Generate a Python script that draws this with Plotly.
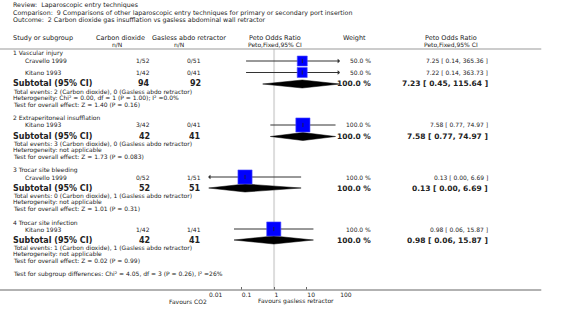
import numpy as np
import plotly.graph_objects as go

W, H = 566, 313
FONT = "DejaVu Sans"

# ---------------- data ----------------
review = "Review:  Laparoscopic entry techniques"
comparison = "Comparison:  9 Comparisons of other laparoscopic entry techniques for primary or secondary port insertion"
outcome = "Outcome:  2 Carbon dioxide gas insufflation vs gasless abdominal wall retractor"

groups = ["1 Vascular injury", "2 Extraperitoneal insufflation",
          "3 Trocar site bleeding", "4 Trocar site infection"]
study_names = ["Cravello 1999", "Kitano 1993", "Kitano 1993", "Cravello 1999", "Kitano 1993"]
study_group = [0, 0, 1, 2, 3]
co2_nN = ["1/52", "1/42", "3/42", "0/52", "1/42"]
gas_nN = ["0/51", "0/41", "0/41", "1/51", "1/41"]
study_or = [7.25, 7.22, 7.58, 0.13, 0.98]
study_lo = [0.14, 0.14, 0.77, 0.00, 0.06]
study_hi = [365.36, 363.73, 74.97, 6.69, 15.87]
study_w = [50.0, 50.0, 100.0, 100.0, 100.0]

sub_co2 = [94, 42, 52, 42]
sub_gas = [92, 41, 51, 41]
sub_or = [7.23, 7.58, 0.13, 0.98]
sub_lo = [0.45, 0.77, 0.00, 0.06]
sub_hi = [115.64, 74.97, 6.69, 15.87]
sub_w = [100.0, 100.0, 100.0, 100.0]

total_events = [
    "Total events: 2 (Carbon dioxide), 0 (Gasless abdo retractor)",
    "Total events: 3 (Carbon dioxide), 0 (Gasless abdo retractor)",
    "Total events: 0 (Carbon dioxide), 1 (Gasless abdo retractor)",
    "Total events: 1 (Carbon dioxide), 1 (Gasless abdo retractor)",
]
heterogeneity = [
    "Heterogeneity: Chi² = 0.00, df = 1 (P = 1.00); I² =0.0%",
    "Heterogeneity: not applicable",
    "Heterogeneity: not applicable",
    "Heterogeneity: not applicable",
]
overall_effect = [
    "Test for overall effect: Z = 1.40 (P = 0.16)",
    "Test for overall effect: Z = 1.73 (P = 0.083)",
    "Test for overall effect: Z = 1.01 (P = 0.31)",
    "Test for overall effect: Z = 0.02 (P = 0.99)",
]
subgroup_test = "Test for subgroup differences: Chi² = 4.05, df = 3 (P = 0.26), I² =26%"

tick_vals = [0.01, 0.1, 1, 10, 100]
tick_text = ["0.01", "0.1", "1", "10", "100"]
favours_left = "Favours CO2"
favours_right = "Favours gasless retractor"

# ---------------- layout positions (pixels) ----------------
header_y = [53, 118, 170, 222]
study_y = [61, 72.5, 125, 177, 229]
sub_y = [84, 136.5, 188, 240]
XMIN, XMAX = 0.01, 100
AX_L, AX_R = 213, 347
AXIS_Y = 290

fig = go.Figure()


def txt(s, x, y, size=6, anchor="left", bold=False, color="#222"):
    fig.add_annotation(text=f"<b>{s}</b>" if bold else s, xref="paper", yref="paper",
                       x=x / W, y=1 - y / H, xanchor=anchor, yanchor="middle",
                       showarrow=False, borderpad=0,
                       font=dict(size=size, family=FONT, color=color))


def fmt_ci(o, l, h):
    return f"{o:.2f} [ {l:.2f}, {h:.2f} ]"


# titles
txt(review, 12, 5.5, 6.3)
txt(comparison, 12, 12.8, 6.3)
txt(outcome, 12, 20, 6.3)

# headers
txt("Study or subgroup", 12, 37.5, 6.5)
txt("Carbon dioxide", 123, 37.5, 6.5, "center")
txt("n/N", 120, 44, 6, "center")
txt("Gasless abdo retractor", 193, 37.5, 6.5, "center")
txt("n/N", 183, 44, 6, "center")
txt("Peto Odds Ratio", 281, 37.5, 6.5, "center")
txt("Peto,Fixed,95% CI", 281, 44, 6, "center")
txt("Weight", 362, 37.5, 6.5, "center")
txt("Peto Odds Ratio", 461, 37.5, 6.5, "center")
txt("Peto,Fixed,95% CI", 461, 44, 6, "center")

# lines: header rule, bottom axis rule, null line
fig.add_shape(type="line", xref="paper", yref="y", x0=0, x1=553 / W, y0=49, y1=49,
              line=dict(color="#999", width=1))
fig.add_shape(type="line", xref="paper", yref="y", x0=0, x1=553 / W, y0=AXIS_Y, y1=AXIS_Y,
              line=dict(color="#999", width=1.5))
fig.add_shape(type="line", xref="x", yref="y", x0=1, x1=1, y0=49, y1=AXIS_Y,
              line=dict(color="#dddddd", width=2), layer="below")

# groups
for g in range(len(groups)):
    txt(groups[g], 12, header_y[g], 6)
    ys = sub_y[g]
    txt("Subtotal (95% CI)", 12, ys, 8, bold=True)
    txt(str(sub_co2[g]), 154, ys, 8, "right", bold=True)
    txt(str(sub_gas[g]), 206, ys, 8, "right", bold=True)
    txt(f"{sub_w[g]:.1f} %", 380, ys, 7.5, "right", bold=True)
    txt(fmt_ci(sub_or[g], sub_lo[g], sub_hi[g]), 500, ys, 7.5, "right", bold=True)
    txt(total_events[g], 12, ys + 7, 6)
    txt(heterogeneity[g], 12, ys + 13.5, 6)
    txt(overall_effect[g], 12, ys + 20, 6)

    lo = float(np.clip(sub_lo[g], XMIN, XMAX))
    hi = float(np.clip(sub_hi[g], XMIN, XMAX))
    fig.add_trace(go.Scatter(x=[lo, sub_or[g], hi, sub_or[g], lo],
                             y=[ys, ys - 4, ys, ys + 4, ys],
                             mode="lines", fill="toself", fillcolor="black",
                             line=dict(color="black", width=0.5), hoverinfo="skip"))

# studies
for i in range(len(study_names)):
    y = study_y[i]
    txt(study_names[i], 25, y, 6)
    txt(co2_nN[i], 154, y, 6, "right")
    txt(gas_nN[i], 206, y, 6, "right")
    txt(f"{study_w[i]:.1f} %", 380, y, 6, "right")
    txt(fmt_ci(study_or[i], study_lo[i], study_hi[i]), 500, y, 6, "right")

    lo = float(np.clip(study_lo[i], XMIN, XMAX))
    hi = float(np.clip(study_hi[i], XMIN, XMAX))
    fig.add_trace(go.Scatter(x=[lo, hi], y=[y, y], mode="lines",
                             line=dict(color="#333", width=1), hoverinfo="skip"))
    if study_hi[i] > XMAX:
        fig.add_trace(go.Scatter(x=[XMAX * 0.93], y=[y], mode="markers",
                                 marker=dict(symbol="triangle-right", size=4, color="#333"),
                                 hoverinfo="skip"))
    if study_lo[i] < XMIN:
        fig.add_trace(go.Scatter(x=[XMIN / 0.93], y=[y], mode="markers",
                                 marker=dict(symbol="triangle-left", size=4, color="#333"),
                                 hoverinfo="skip"))
    size = 10 * np.sqrt(study_w[i] / 50.0)
    fig.add_trace(go.Scatter(x=[study_or[i]], y=[y], mode="markers",
                             marker=dict(symbol="square", size=size, color="#0000ff",
                                         line=dict(color="#4d4dff", width=0.6)),
                             hoverinfo="skip"))
    fig.add_trace(go.Scatter(x=[study_or[i]], y=[y], mode="markers",
                             marker=dict(symbol="line-ns", size=3,
                                         line=dict(color="#222", width=0.8)),
                             hoverinfo="skip"))

txt(subgroup_test, 12, 273.5, 6)
txt(favours_left, 213, 301, 6, "right")
txt(favours_right, 263, 301, 6, "left")

fig.update_layout(
    width=W, height=H, autosize=False,
    margin=dict(l=0, r=0, t=0, b=0),
    paper_bgcolor="white", plot_bgcolor="white",
    showlegend=False,
    xaxis=dict(type="log", range=[np.log10(XMIN), np.log10(XMAX)],
               domain=[AX_L / W, AX_R / W], anchor="free", position=1 - AXIS_Y / H,
               tickvals=tick_vals, ticktext=tick_text, ticks="inside", ticklen=3,
               tickcolor="#666", ticklabelposition="outside right",
               tickfont=dict(size=6, family=FONT, color="#222"),
               showgrid=False, zeroline=False, showline=False),
    yaxis=dict(range=[H, 0], domain=[0, 1], visible=False, showgrid=False, zeroline=False),
)

fig.write_html("out.html", config={"displayModeBar": False},
               post_script="document.body.style.margin='0';")
